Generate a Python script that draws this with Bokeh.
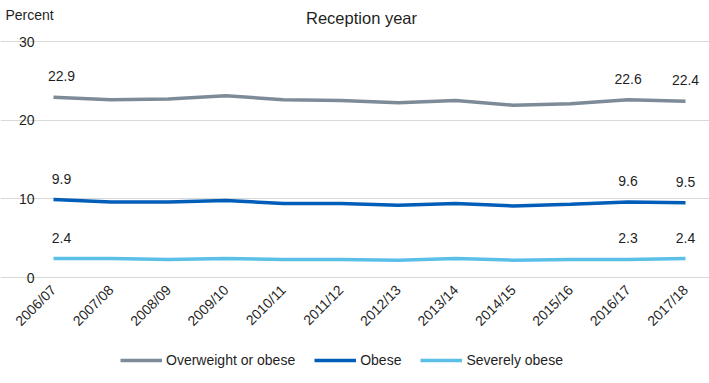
from math import pi

from bokeh.core.properties import value
from bokeh.embed import file_html
from bokeh.models import (ColumnDataSource, FixedTicker, Grid, Label, Legend,
                          LegendItem, LinearAxis, Range1d)
from bokeh.plotting import figure
from bokeh.resources import INLINE

years = ["2006/07", "2007/08", "2008/09", "2009/10", "2010/11", "2011/12",
         "2012/13", "2013/14", "2014/15", "2015/16", "2016/17", "2017/18"]
overweight_or_obese = [22.9, 22.6, 22.7, 23.1, 22.6, 22.5, 22.2, 22.5, 21.9, 22.1, 22.6, 22.4]
obese = [9.9, 9.6, 9.6, 9.8, 9.4, 9.4, 9.2, 9.4, 9.1, 9.3, 9.6, 9.5]
severely_obese = [2.4, 2.4, 2.3, 2.4, 2.3, 2.3, 2.2, 2.4, 2.2, 2.3, 2.3, 2.4]
y_ticks = [0, 10, 20, 30]
labelled = [0, 10, 11]  # year positions that carry value labels

FONT = "Liberation Sans"
TXT = "#1f1f1f"
W, H = 709, 383

x = list(range(len(years)))

# The frame fills the whole canvas; axes sit inside it at fixed locations.
px_x = 632 / (len(years) - 1)      # pixels per year step
px_y = 236 / 30                    # pixels per percentage point
x_range = Range1d(-53 / px_x, (len(years) - 1) + 24 / px_x)
y_range = Range1d(-(H - 277) / px_y, 30 + 41 / px_y)

p = figure(width=W, height=H, output_backend="svg", toolbar_location=None,
           x_range=x_range, y_range=y_range,
           x_axis_location=None, y_axis_location=None,
           min_border=0)
p.outline_line_color = None
p.background_fill_color = "white"
p.border_fill_color = "white"
# drop the default grids; a bounded one is added below
p.center = [r for r in p.center if not isinstance(r, Grid)]

yaxis = LinearAxis(fixed_location=0, ticker=FixedTicker(ticks=y_ticks))
yaxis.axis_line_color = None
yaxis.major_tick_line_color = None
yaxis.minor_tick_line_color = None
yaxis.major_label_text_font = FONT
yaxis.major_label_text_font_size = "14px"
yaxis.major_label_text_color = TXT
yaxis.major_label_standoff = 13
p.add_layout(yaxis, "left")

xaxis = LinearAxis(fixed_location=0, ticker=FixedTicker(ticks=x))
xaxis.major_label_overrides = {i: y for i, y in enumerate(years)}
xaxis.major_label_orientation = pi / 4
xaxis.axis_line_color = None
xaxis.major_tick_line_color = None
xaxis.minor_tick_line_color = None
xaxis.major_label_text_font = FONT
xaxis.major_label_text_font_size = "14px"
xaxis.major_label_text_color = TXT
xaxis.major_label_standoff = 4
p.add_layout(xaxis, "below")

grid = Grid(dimension=1, ticker=FixedTicker(ticks=y_ticks),
            bounds=(0, len(years) - 1),
            grid_line_color="#d9d9d9", grid_line_width=1)
p.add_layout(grid)

series = [
    ("Overweight or obese", overweight_or_obese, "#7d8b98"),
    ("Obese", obese, "#005eb8"),
    ("Severely obese", severely_obese, "#5bbfe8"),
]

items = []
for name, vals, color in series:
    r = p.line(x, vals, line_color=color, line_width=3.5)
    items.append(LegendItem(label=name, renderers=[r]))
    src = ColumnDataSource(dict(
        x=[x[i] for i in labelled],
        y=[vals[i] for i in labelled],
        t=[f"{vals[i]:.1f}" for i in labelled],
        dx=[8 if i == 0 else 0 for i in labelled],
    ))
    p.text("x", "y", text="t", source=src, x_offset="dx", y_offset=-21,
           text_align="center", text_baseline="middle",
           text_font=value(FONT), text_font_size="14px", text_color=TXT)

legend = Legend(items=items, orientation="horizontal", location=(120, 15),
                border_line_color=None, background_fill_alpha=0,
                label_text_font=FONT, label_text_font_size="14px",
                label_text_color=TXT, glyph_width=42, glyph_height=16,
                label_standoff=4, spacing=19, padding=0, margin=0)
p.add_layout(legend, "center")

p.add_layout(Label(x=361, y=H - 17, x_units="screen", y_units="screen",
                   text="Reception year", text_font=FONT,
                   text_font_size="16.5px", text_color=TXT,
                   text_align="center", text_baseline="middle"))
p.add_layout(Label(x=5, y=H - 14, x_units="screen", y_units="screen",
                   text="Percent", text_font=FONT, text_font_size="14px",
                   text_color=TXT, text_align="left", text_baseline="middle"))

open("out.html", "w").write(file_html(p, INLINE))
